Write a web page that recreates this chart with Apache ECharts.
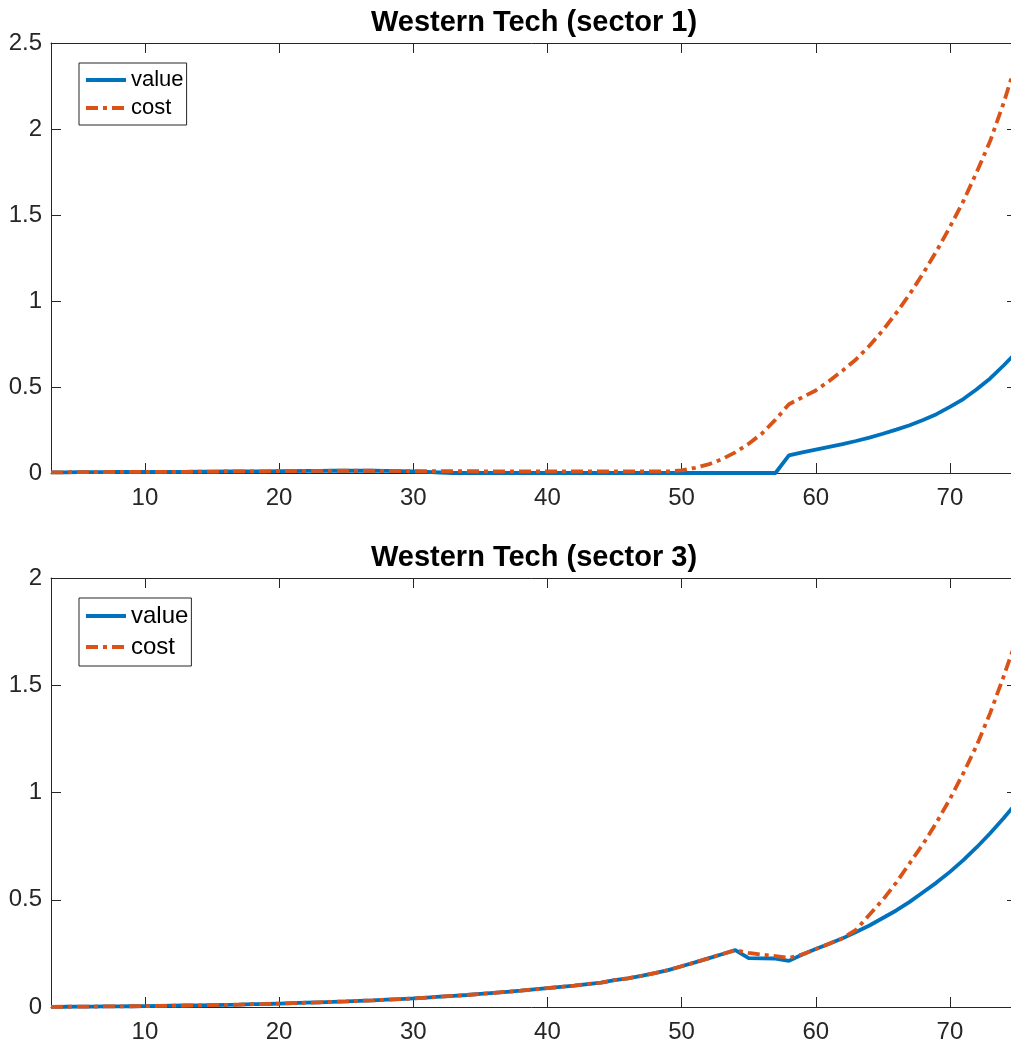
<!DOCTYPE html>
<html>
<head>
<meta charset="utf-8">
<title>Western Tech</title>
<script src="https://cdn.jsdelivr.net/npm/echarts@6/dist/echarts.min.js"></script>
<style>
  html, body { margin: 0; padding: 0; background: #fff; }
  #chart { width: 1011px; height: 1046px; }
</style>
</head>
<body>
<div id="chart"></div>
<script>
// Years shared by every series
const years = [
  3, 4, 5, 6, 7, 8, 9, 10, 11, 12,
  13, 14, 15, 16, 17, 18, 19, 20, 21, 22,
  23, 24, 25, 26, 27, 28, 29, 30, 31, 32,
  33, 34, 35, 36, 37, 38, 39, 40, 41, 42,
  43, 44, 45, 46, 47, 48, 49, 50, 51, 52,
  53, 54, 55, 56, 57, 58, 59, 60, 61, 62,
  63, 64, 65, 66, 67, 68, 69, 70, 71, 72,
  73, 74, 75
];

// Sector 1
const sector1Value = [
  0.004, 0.004, 0.005, 0.005, 0.005, 0.006, 0.006, 0.006, 0.007, 0.007,
  0.007, 0.008, 0.008, 0.009, 0.009, 0.010, 0.010, 0.011, 0.011, 0.012,
  0.012, 0.013, 0.013, 0.013, 0.013, 0.012, 0.011, 0.009, 0.006, 0.003,
  0, 0, 0, 0, 0, 0, 0, 0, 0, 0,
  0, 0, 0, 0, 0, 0, 0, 0, 0, 0,
  0, 0, 0, 0, 0, 0.103, 0.12, 0.136, 0.152, 0.168,
  0.186, 0.206, 0.228, 0.252, 0.278, 0.308, 0.342, 0.384, 0.43, 0.487,
  0.55, 0.625, 0.705
];
const sector1Cost = [
  0.004, 0.004, 0.005, 0.005, 0.005, 0.006, 0.006, 0.006, 0.007, 0.007,
  0.007, 0.008, 0.008, 0.009, 0.009, 0.010, 0.010, 0.011, 0.011, 0.012,
  0.012, 0.013, 0.013, 0.013, 0.013, 0.012, 0.011, 0.010, 0.011, 0.011,
  0.011, 0.011, 0.010, 0.010, 0.010, 0.010, 0.010, 0.010, 0.009, 0.009,
  0.009, 0.009, 0.009, 0.009, 0.009, 0.010, 0.010, 0.015, 0.03, 0.05,
  0.08, 0.12, 0.17, 0.23, 0.31, 0.40, 0.44, 0.48, 0.535, 0.595,
  0.66, 0.74, 0.83, 0.93, 1.04, 1.16, 1.29, 1.43, 1.58, 1.75,
  1.93, 2.15, 2.40
];

// Sector 3
const sector3Value = [
  0.001, 0.0012, 0.0015, 0.002, 0.0025, 0.003, 0.0035, 0.004, 0.005, 0.006,
  0.007, 0.008, 0.009, 0.010, 0.011, 0.013, 0.014, 0.016, 0.018, 0.020,
  0.022, 0.024, 0.026, 0.029, 0.031, 0.034, 0.037, 0.040, 0.044, 0.048,
  0.052, 0.056, 0.061, 0.066, 0.071, 0.076, 0.082, 0.088, 0.094, 0.100,
  0.107, 0.114, 0.125, 0.134, 0.145, 0.158, 0.172, 0.19, 0.208, 0.227,
  0.246, 0.265, 0.228, 0.227, 0.226, 0.215, 0.245, 0.27, 0.295, 0.32,
  0.35, 0.38, 0.415, 0.45, 0.49, 0.535, 0.58, 0.63, 0.685, 0.745,
  0.81, 0.88, 0.955
];
const sector3Cost = [
  0.001, 0.0012, 0.0015, 0.002, 0.0025, 0.003, 0.0035, 0.004, 0.005, 0.006,
  0.007, 0.008, 0.009, 0.010, 0.011, 0.013, 0.014, 0.016, 0.018, 0.020,
  0.022, 0.024, 0.026, 0.029, 0.031, 0.034, 0.037, 0.040, 0.044, 0.048,
  0.052, 0.056, 0.061, 0.066, 0.071, 0.076, 0.082, 0.088, 0.094, 0.100,
  0.107, 0.114, 0.125, 0.134, 0.145, 0.158, 0.172, 0.19, 0.208, 0.227,
  0.246, 0.265, 0.252, 0.244, 0.237, 0.229, 0.245, 0.27, 0.295, 0.32,
  0.36, 0.43, 0.50, 0.58, 0.67, 0.76, 0.86, 0.97, 1.09, 1.22,
  1.37, 1.54, 1.72
];

// Axis ticks
const xTicks = [10, 20, 30, 40, 50, 60, 70];
const panelTitles = ['Western Tech (sector 1)', 'Western Tech (sector 3)'];
const panelYMax = [2.5, 2];

const AXIS_COLOR = '#262626';
const BLUE = '#0072BD';
const ORANGE = '#D95319';
const FONT = '"Liberation Sans", Arial, Helvetica, sans-serif';

const pairs = (ys) => years.map((x, i) => [x, ys[i]]);

const grids = [
  { left: 51, right: -6, top: 43, height: 430, outerBoundsMode: 'none' },
  { left: 51, right: -6, top: 578, height: 429, outerBoundsMode: 'none' }
];

function xAxisFor(gridIndex, position) {
  const isBottom = position === 'bottom';
  return {
    type: 'value', gridIndex, position,
    min: 3, max: 75,
    splitLine: { show: false },
    axisLine: { show: true, onZero: false, lineStyle: { color: AXIS_COLOR, width: 1 } },
    axisTick: { show: true, inside: true, length: 10, customValues: xTicks,
                lineStyle: { color: AXIS_COLOR, width: 1 } },
    axisLabel: { show: isBottom, customValues: xTicks, margin: 13,
                 fontFamily: FONT, fontSize: 24, color: AXIS_COLOR }
  };
}

function yAxisFor(gridIndex, position, max) {
  const isLeft = position === 'left';
  return {
    type: 'value', gridIndex, position,
    min: 0, max, interval: 0.5,
    splitLine: { show: false },
    axisLine: { show: true, onZero: false, lineStyle: { color: AXIS_COLOR, width: 1 } },
    axisTick: { show: true, inside: true, length: 10, lineStyle: { color: AXIS_COLOR, width: 1 } },
    axisLabel: { show: isLeft, margin: 9, fontFamily: FONT, fontSize: 24, color: AXIS_COLOR }
  };
}

const xAxes = [], yAxes = [];
[0, 1].forEach((g) => {
  xAxes.push(xAxisFor(g, 'bottom'), xAxisFor(g, 'top'));
  yAxes.push(yAxisFor(g, 'left', panelYMax[g]), yAxisFor(g, 'right', panelYMax[g]));
});

function lineSeries(name, data, g, color, dashed) {
  return {
    name, type: 'line', data: pairs(data),
    xAxisIndex: g * 2, yAxisIndex: g * 2,
    symbol: 'none', smooth: false, animation: false,
    lineStyle: { color, width: 3.8, type: dashed ? [12, 5, 4, 5] : 'solid' },
    itemStyle: { color },
    emphasis: { disabled: true }
  };
}

const series = [
  lineSeries('value', sector1Value, 0, BLUE, false),
  lineSeries('cost', sector1Cost, 0, ORANGE, true),
  lineSeries('value', sector3Value, 1, BLUE, false),
  lineSeries('cost', sector3Cost, 1, ORANGE, true)
];

// Legend keys show only the line sample, no marker
const legendBase = {
  orient: 'vertical', left: 79,
  data: ['value', 'cost'],
  itemWidth: 40, itemHeight: 12,
  itemStyle: { opacity: 0 },
  lineStyle: { width: 4 },
  backgroundColor: '#fff',
  borderColor: AXIS_COLOR, borderWidth: 1, borderRadius: 0,
  selectedMode: false
};

const option = {
  backgroundColor: '#fff',
  animation: false,
  title: panelTitles.map((text, i) => ({
    text, left: 534, textAlign: 'center', top: i === 0 ? 8 : 543, padding: 0,
    textStyle: { fontFamily: FONT, fontWeight: 'bold', fontSize: 29, color: '#000' }
  })),
  legend: [
    Object.assign({}, legendBase, {
      top: 63, padding: [6, 3, 6, 5], itemGap: 6,
      textStyle: { fontFamily: FONT, fontSize: 22, color: '#000' }
    }),
    Object.assign({}, legendBase, {
      top: 598, padding: [6, 3, 7, 5], itemGap: 7,
      textStyle: { fontFamily: FONT, fontSize: 24, color: '#000' }
    })
  ],
  grid: grids,
  xAxis: xAxes,
  yAxis: yAxes,
  series
};

const chart = echarts.init(document.getElementById('chart'), null, { renderer: 'canvas' });
chart.setOption(option);
</script>
</body>
</html>
